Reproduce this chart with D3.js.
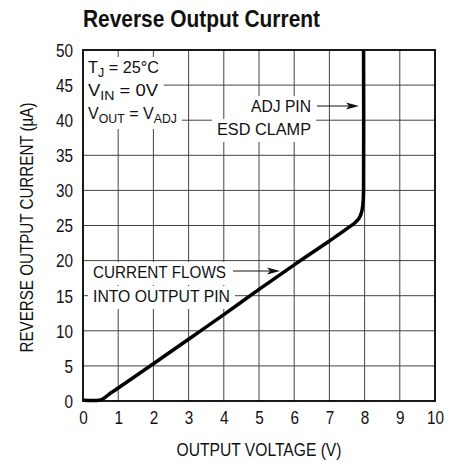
<!DOCTYPE html>
<html><head><meta charset="utf-8">
<script src="https://cdn.jsdelivr.net/npm/d3@7"></script>
<style>
body{margin:0;background:#fff;}
text{font-family:"Liberation Sans","Arial",sans-serif;fill:#111;}
</style></head>
<body><svg id="c" width="459" height="462"></svg>
<script>
const title = "Reverse Output Current";
const xLabel = "OUTPUT VOLTAGE (V)";
const yLabel = "REVERSE OUTPUT CURRENT (µA)";
const xTicks = [0,1,2,3,4,5,6,7,8,9,10];
const yTicks = [0,5,10,15,20,25,30,35,40,45,50];
const voltage = [0, 0.45, 0.55, 0.65, 0.75, 0.9, 1, 2, 3, 4, 5, 6, 7, 7.6, 7.75, 7.85, 7.92, 7.96, 7.97, 7.97];
const current = [0.1, 0.1, 0.25, 0.6, 1.0, 1.5, 1.85, 5.3, 8.8, 12.3, 15.9, 19.4, 22.8, 24.9, 25.5, 26.1, 27, 28.5, 30, 50];

const W=459,H=462, L=83, R=435, T=50, B=401;
const svg=d3.select("#c");
const x=d3.scaleLinear().domain([0,10]).range([L,R]);
const y=d3.scaleLinear().domain([0,50]).range([B,T]);

function condense(sel, factor){
  sel.each(function(){
    const len=this.getComputedTextLength();
    d3.select(this).attr("textLength",len*factor).attr("lengthAdjust","spacingAndGlyphs");
  });
}
function fitWidth(sel, w){
  sel.attr("textLength",w).attr("lengthAdjust","spacingAndGlyphs");
}

// grid
const g=svg.append("g");
g.selectAll(".vx").data(xTicks.slice(1,-1)).enter().append("line")
 .attr("x1",d=>x(d)).attr("x2",d=>x(d)).attr("y1",T).attr("y2",B)
 .attr("stroke","#444").attr("stroke-width",1);
g.selectAll(".hy").data(yTicks.slice(1,-1)).enter().append("line")
 .attr("x1",L).attr("x2",R).attr("y1",d=>y(d)).attr("y2",d=>y(d))
 .attr("stroke","#444").attr("stroke-width",1);

// annotation layer (white boxes hide grid)
const boxes=svg.append("g"), ann=svg.append("g");
function label(xp, yp, parts, width, anchor){
  const t=ann.append("text").attr("x",xp).attr("y",yp).attr("font-size",17)
    .attr("text-anchor",anchor||"start");
  parts.forEach((p,i)=>{
    const isSub=typeof p!=="string";
    const prevSub=i>0 && typeof parts[i-1]!=="string";
    const ts=t.append("tspan").text(isSub?p.sub:p);
    if(isSub){ ts.attr("font-size",13); if(!prevSub) ts.attr("dy",4); }
    else if(prevSub) ts.attr("dy",-4);
  });
  fitWidth(t,width);
  const bb=t.node().getBBox();
  boxes.append("rect").attr("x",bb.x-5).attr("y",bb.y-1).attr("width",bb.width+10).attr("height",bb.height+4).attr("fill","#fff");
  return t;
}
label(88,73,["T",{sub:"J"}," = 25°C"],71);
label(88,96,["V",{sub:"IN"}," = 0V"],70);
label(88,119,["V",{sub:"OUT"}," = V",{sub:"ADJ"}],89);
label(311,112,["ADJ PIN"],60,"end");
label(311,135,["ESD CLAMP"],94,"end");
label(93,278,["CURRENT FLOWS"],133);
label(93,302,["INTO OUTPUT PIN"],137);

// arrows
function arrow(x1,x2,yy){
  ann.append("line").attr("x1",x1).attr("x2",x2-10).attr("y1",yy).attr("y2",yy).attr("stroke","#111").attr("stroke-width",1);
  ann.append("path").attr("d",`M${x2},${yy} L${x2-13},${yy-3.5} L${x2-10},${yy} L${x2-13},${yy+3.5} Z`).attr("fill","#111");
}
arrow(317,359,106);
arrow(233,280,271);

// curve
const pts=voltage.map((v,i)=>[v,current[i]]);
svg.append("path").datum(pts)
 .attr("d",d3.line().x(d=>x(d[0])).y(d=>y(d[1])).curve(d3.curveCatmullRom.alpha(0.5)))
 .attr("fill","none").attr("stroke","#000").attr("stroke-width",3.5).attr("stroke-linejoin","round");

// frame
svg.append("rect").attr("x",L).attr("y",T).attr("width",R-L).attr("height",B-T)
 .attr("fill","none").attr("stroke","#000").attr("stroke-width",1.8);

// axes
const xa=svg.append("g").attr("transform",`translate(0,${B})`)
 .call(d3.axisBottom(x).tickValues(xTicks).tickSize(0).tickPadding(10).tickFormat(d3.format("d")));
xa.select(".domain").remove();
xa.selectAll("text").attr("font-size",18).attr("font-family",null).attr("fill","#111").call(condense,0.85);
const ya=svg.append("g").attr("transform",`translate(${L},0)`)
 .call(d3.axisLeft(y).tickValues(yTicks).tickSize(0).tickPadding(10).tickFormat(d3.format("d")));
ya.select(".domain").remove();
ya.selectAll("text").attr("font-size",18).attr("font-family",null).attr("fill","#111").attr("dy","0.35em").call(condense,0.85);

svg.append("text").attr("x",(L+R)/2).attr("y",456).attr("text-anchor","middle").attr("font-size",18).text(xLabel).call(fitWidth,165);
svg.append("text").attr("transform",`translate(33,${(T+B)/2+2}) rotate(-90)`).attr("text-anchor","middle").attr("font-size",18).text(yLabel).call(fitWidth,250);
svg.append("text").attr("x",83).attr("y",27).attr("font-size",23).attr("font-weight","bold").text(title).call(fitWidth,237);
</script></body></html>
